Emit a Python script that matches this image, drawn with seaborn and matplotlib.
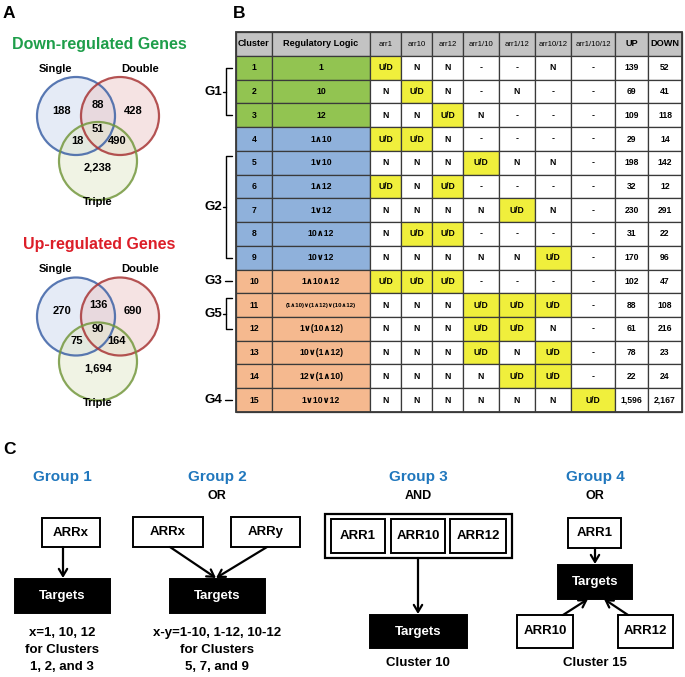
import matplotlib
matplotlib.use("Agg")
import matplotlib.pyplot as plt
from matplotlib.patches import Rectangle, Circle, FancyArrowPatch
import seaborn as sns

# ---- data -----------------------------------------------------------------
venn_sets = ["Single", "Double", "Triple"]
# region order: S only, D only, T only, S&D, S&T, D&T, S&D&T
down_venn = ["188", "428", "2,238", "88", "18", "490", "51"]
up_venn = ["270", "690", "1,694", "136", "75", "164", "90"]

table_header = ["Cluster", "Regulatory Logic", "arr1", "arr10", "arr12",
                "arr1/10", "arr1/12", "arr10/12", "arr1/10/12", "UP", "DOWN"]
cluster_ids = list(range(1, 16))
logic = ["1", "10", "12", "1\u222710", "1\u222810", "1\u222712", "1\u222812",
         "10\u222712", "10\u222812", "1\u222710\u222712",
         "(1\u222710)\u2228(1\u222712)\u2228(10\u222712)",
         "1\u2228(10\u222712)", "10\u2228(1\u222712)", "12\u2228(1\u222710)",
         "1\u222810\u222812"]
arr1 = ["U/D", "N", "N", "U/D", "N", "U/D", "N", "N", "N", "U/D", "N", "N", "N", "N", "N"]
arr10 = ["N", "U/D", "N", "U/D", "N", "N", "N", "U/D", "N", "U/D", "N", "N", "N", "N", "N"]
arr12 = ["N", "N", "U/D", "N", "N", "U/D", "N", "U/D", "N", "U/D", "N", "N", "N", "N", "N"]
arr1_10 = ["-", "-", "N", "-", "U/D", "-", "N", "-", "N", "-", "U/D", "U/D", "U/D", "N", "N"]
arr1_12 = ["-", "N", "-", "-", "N", "-", "U/D", "-", "N", "-", "U/D", "U/D", "N", "U/D", "N"]
arr10_12 = ["N", "-", "-", "-", "N", "-", "N", "-", "U/D", "-", "U/D", "N", "U/D", "U/D", "N"]
arr1_10_12 = ["-", "-", "-", "-", "-", "-", "-", "-", "-", "-", "-", "-", "-", "-", "U/D"]
up_counts = [139, 69, 109, 29, 198, 32, 230, 31, 170, 102, 88, 61, 78, 22, 1596]
down_counts = [52, 41, 118, 14, 142, 12, 291, 22, 96, 47, 108, 216, 23, 24, 2167]
row_group = [0, 0, 0, 1, 1, 1, 1, 1, 1, 2, 2, 2, 2, 2, 2]

bracket_labels = ["G1", "G2", "G3", "G5", "G4"]
bracket_rows = [(1, 3), (5, 9), (10, 10), (11, 12), (15, 15)]

# ---- style ----------------------------------------------------------------
sns.set_theme(style="white")
plt.rcParams["font.family"] = ["Liberation Sans", "DejaVu Sans"]
plt.rcParams["font.weight"] = "bold"

group_colors = ["#92c451", "#8fb1db", "#f5b98f"]
yellow = "#f0ef3c"
header_gray = "#c3c3c3"
grid_col = "#3a3a3a"

fig = plt.figure(figsize=(6.85, 6.77), dpi=100)
ax = fig.add_axes([0, 0, 1, 1])
ax.set_xlim(0, 685)
ax.set_ylim(677, 0)
ax.axis("off")


def txt(x, y, s, size, color="black", weight="bold", **kw):
    ax.text(x, y, s, fontsize=size, color=color, weight=weight,
            ha=kw.pop("ha", "center"), va=kw.pop("va", "center"), **kw)


# ---- panel letters --------------------------------------------------------
txt(3, 14, "A", 12.5, ha="left")
txt(233, 13, "B", 12.5, ha="left")
txt(3, 450, "C", 12.5, ha="left")

# ---- panel A: venn diagrams -----------------------------------------------
edge_cols = ["#3d62a6", "#a83636", "#74983e"]
face_cols = ["#cdd8ee", "#ecc8c8", "#e3e8cb"]


def venn(dy, title, title_col, counts):
    txt(99, 44 + dy, title, 11.5, color=title_col)
    centers = [(76, 116 + dy), (120, 116 + dy), (98, 161 + dy)]
    for (cx, cy), ec, fc in zip(centers, edge_cols, face_cols):
        ax.add_patch(Circle((cx, cy), 39, facecolor=fc, alpha=0.5, lw=0))
    for (cx, cy), ec in zip(centers, edge_cols):
        ax.add_patch(Circle((cx, cy), 39, facecolor="none", edgecolor=ec,
                            lw=1.6, alpha=0.85))
    for name, (lx, ly) in zip(venn_sets, [(55, 69), (140, 69), (98, 202)]):
        txt(lx, ly + dy, name, 8)
    spots = [(62, 111), (133, 111), (98, 168), (98, 105), (77, 141), (117, 141), (98, 129)]
    for val, (px, py) in zip(counts, spots):
        txt(px, py + dy, val, 8)


venn(0, "Down-regulated Genes", "#1e9e4a", down_venn)
venn(200.5, "Up-regulated Genes", "#dc1e28", up_venn)

# ---- panel B: table -------------------------------------------------------
col_edges = [236, 272, 370, 401, 432, 463, 499, 535, 571, 615.5, 648, 682]
top, head_h, row_h = 32, 24, 23.73
arr_cols = [arr1, arr10, arr12, arr1_10, arr1_12, arr10_12, arr1_10_12]

for c, name in enumerate(table_header):
    x0, x1 = col_edges[c], col_edges[c + 1]
    ax.add_patch(Rectangle((x0, top), x1 - x0, head_h, facecolor=header_gray,
                           edgecolor=grid_col, lw=0.9))
    if 2 <= c <= 8:
        txt((x0 + x1) / 2, top + head_h / 2, name, 5.6, weight="normal")
    else:
        txt((x0 + x1) / 2, top + head_h / 2, name, 6.6)

for r in range(len(cluster_ids)):
    y0 = top + head_h + r * row_h
    yc = y0 + row_h / 2
    cells = [str(cluster_ids[r]), logic[r]] + [col[r] for col in arr_cols] + \
        [f"{up_counts[r]:,}", f"{down_counts[r]:,}"]
    for c, val in enumerate(cells):
        x0, x1 = col_edges[c], col_edges[c + 1]
        if c < 2:
            fc = group_colors[row_group[r]]
        elif c <= 8 and val == "U/D":
            fc = yellow
        else:
            fc = "white"
        ax.add_patch(Rectangle((x0, y0), x1 - x0, row_h, facecolor=fc,
                               edgecolor=grid_col, lw=0.9))
        size = 4.3 if (c == 1 and len(val) > 12) else 6.2
        txt((x0 + x1) / 2, yc, val, size)

bottom = top + head_h + len(cluster_ids) * row_h
ax.add_patch(Rectangle((col_edges[0], top), col_edges[-1] - col_edges[0],
                       bottom - top, facecolor="none", edgecolor=grid_col, lw=1.3))

# group brackets
bx, arm = 226.5, 232
for lab, (r0, r1) in zip(bracket_labels, bracket_rows):
    ya = top + head_h + (r0 - 0.5) * row_h
    yb = top + head_h + (r1 - 0.5) * row_h
    if r0 == 5:
        ya -= 7
    if r0 == 11:
        ya -= 7
    if r0 == r1:
        ax.plot([bx - 1.5, arm], [ya, ya], color="black", lw=1)
        txt(bx - 4, ya, lab, 9.5, ha="right")
        continue
    ym = (ya + yb) / 2
    ax.plot([arm, bx, bx, arm], [ya, ya, yb, yb], color="black", lw=1)
    ax.plot([bx - 3, bx], [ym, ym], color="black", lw=1)
    txt(bx - 4, ym, lab, 9.5, ha="right")

# ---- panel C: logic diagrams ----------------------------------------------
blue_title = "#2077bd"


def box(x0, x1, y0, y1, label, dark=False, lw=1.4):
    ax.add_patch(Rectangle((x0, y0), x1 - x0, y1 - y0,
                           facecolor="black" if dark else "white",
                           edgecolor="black", lw=lw))
    if label:
        txt((x0 + x1) / 2, (y0 + y1) / 2, label, 9.5,
            color="white" if dark else "black")


def arrow(p0, p1):
    ax.add_patch(FancyArrowPatch(p0, p1, arrowstyle="->,head_length=5,head_width=3",
                                 color="black", lw=1.6, shrinkA=0, shrinkB=0,
                                 mutation_scale=1))


group_titles = ["Group 1", "Group 2", "Group 3", "Group 4"]
group_ops = ["", "OR", "AND", "OR"]
group_x = [62, 217, 418, 595]
group_notes = [["x=1, 10, 12", "for Clusters", "1, 2, and 3"],
               ["x-y=1-10, 1-12, 10-12", "for Clusters", "5, 7, and 9"],
               ["Cluster 10"], ["Cluster 15"]]

for gx, title, op, notes in zip(group_x, group_titles, group_ops, group_notes):
    txt(gx, 477, title, 11, color=blue_title)
    if op:
        txt(gx, 496, op, 9)
    if len(notes) == 3:
        for line, ny in zip(notes, [633, 650, 667]):
            txt(gx, ny, line, 9.5)
    else:
        txt(gx, 663, notes[0], 9.5)

# group 1
box(42, 100, 518, 547, "ARRx")
box(15, 110, 579, 613, "Targets", dark=True)
arrow((63, 547), (63, 578))

# group 2
box(133, 203, 517, 547, "ARRx")
box(231, 300, 517, 547, "ARRy")
box(170, 265, 579, 613, "Targets", dark=True)
arrow((170, 547), (216, 578))
arrow((267, 547), (216, 578))

# group 3
box(325, 512, 514, 558, None, lw=1.6)
box(331, 385, 519, 553, "ARR1")
box(391, 445, 519, 553, "ARR10")
box(450, 506, 519, 553, "ARR12")
box(370, 467, 615, 648, "Targets", dark=True)
arrow((418, 558), (418, 614))

# group 4
box(568, 621, 518, 548, "ARR1")
box(558, 632, 565, 599, "Targets", dark=True)
box(517, 573, 615, 648, "ARR10")
box(618, 673, 615, 648, "ARR12")
arrow((595, 548), (595, 564))
arrow((563, 615), (588, 599))
arrow((628, 615), (604, 599))

fig.savefig("out.png", dpi=100, facecolor="white")
